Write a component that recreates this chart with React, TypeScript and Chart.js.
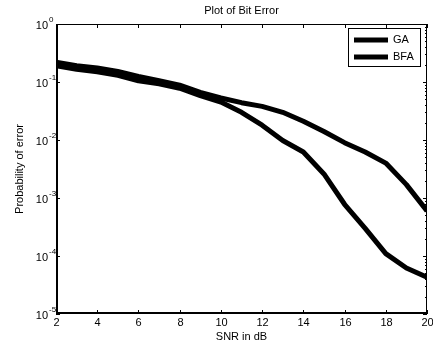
import React, { useEffect, useRef } from "react";
import { Chart, registerables } from "chart.js";
Chart.register(...registerables);

const snr = [2, 3, 4, 5, 6, 7, 8, 9, 10, 11, 12, 13, 14, 15, 16, 17, 18, 19, 20];
const gaValues = [0.22, 0.19, 0.175, 0.152, 0.125, 0.105, 0.088, 0.066, 0.053, 0.044, 0.038, 0.03, 0.021, 0.014, 0.009, 0.0062, 0.004, 0.0017, 0.0006];
const bfaValues = [0.19, 0.165, 0.15, 0.13, 0.105, 0.093, 0.078, 0.058, 0.045, 0.03, 0.018, 0.0098, 0.0062, 0.0026, 0.00078, 0.0003, 0.00011, 0.000062, 0.000043];
const xTicks = [2, 4, 6, 8, 10, 12, 14, 16, 18, 20];
const yExponents = [0, -1, -2, -3, -4, -5];
const seriesNames = ["GA", "BFA"];
const titleText = "Plot of Bit Error";
const xLabel = "SNR in dB";
const yLabel = "Probability of error";

const FONT = '"Liberation Sans", Arial, sans-serif';

const matlabPlugin = {
  id: "matlabAxes",
  afterDraw(chart: any) {
    const ctx = chart.ctx;
    const { left, right, top, bottom } = chart.chartArea;
    const xs = chart.scales.x;
    const ys = chart.scales.y;
    ctx.save();
    ctx.strokeStyle = "#000";
    ctx.fillStyle = "#000";
    ctx.lineWidth = 1;
    // frame: top/right thin, left/bottom thicker
    ctx.strokeRect(left + 0.5, top + 0.5, right - left - 1, bottom - top - 1);
    ctx.fillRect(left, bottom - 2, right - left, 2);
    ctx.fillRect(left, top, 2, bottom - top);
    // x ticks
    ctx.font = `11px ${FONT}`;
    ctx.textAlign = "center";
    ctx.textBaseline = "middle";
    xTicks.forEach((t) => {
      const px = Math.round(xs.getPixelForValue(t)) + 0.5;
      ctx.beginPath();
      ctx.moveTo(px, bottom);
      ctx.lineTo(px, bottom - 4);
      ctx.moveTo(px, top);
      ctx.lineTo(px, top + 4);
      ctx.stroke();
      ctx.fillText(String(t), px, bottom + 9);
    });
    // y ticks
    yExponents.forEach((e) => {
      const py = Math.round(ys.getPixelForValue(Math.pow(10, e))) + 0.5;
      ctx.beginPath();
      ctx.moveTo(left, py);
      ctx.lineTo(left + 4, py);
      ctx.moveTo(right, py);
      ctx.lineTo(right - 4, py);
      ctx.stroke();
      ctx.font = `11px ${FONT}`;
      ctx.textAlign = "right";
      ctx.textBaseline = "middle";
      ctx.fillText("10", left - 8, py + 1);
      ctx.font = `8px ${FONT}`;
      ctx.textAlign = "left";
      ctx.fillText(String(e), left - 7, py - 5);
      if (e > -5) {
        for (let m = 2; m <= 9; m++) {
          const v = Math.pow(10, e - 1) * m;
          const pm = Math.round(ys.getPixelForValue(v)) + 0.5;
          ctx.beginPath();
          ctx.moveTo(left, pm);
          ctx.lineTo(left + 2, pm);
          ctx.moveTo(right, pm);
          ctx.lineTo(right - 2, pm);
          ctx.stroke();
        }
      }
    });
    // titles
    const cx = (left + right) / 2;
    ctx.font = `11px ${FONT}`;
    ctx.textAlign = "center";
    ctx.textBaseline = "middle";
    ctx.fillText(titleText, cx, 11);
    ctx.fillText(xLabel, cx, bottom + 23);
    ctx.save();
    ctx.translate(20, (top + bottom) / 2);
    ctx.rotate(-Math.PI / 2);
    ctx.fillText(yLabel, 0, 0);
    ctx.restore();
    // legend
    const lx = 348, ly = 28, lw = 72, lh = 38;
    ctx.fillStyle = "#fff";
    ctx.fillRect(lx, ly, lw, lh);
    ctx.strokeStyle = "#000";
    ctx.lineWidth = 1;
    ctx.strokeRect(lx + 0.5, ly + 0.5, lw, lh);
    ctx.fillStyle = "#000";
    ctx.textAlign = "left";
    seriesNames.forEach((name, i) => {
      const yy = 40 + i * 17;
      ctx.lineWidth = 5;
      ctx.beginPath();
      ctx.moveTo(354, yy);
      ctx.lineTo(388, yy);
      ctx.stroke();
      ctx.fillText(name, 393, yy);
    });
    ctx.restore();
  },
};

export default function App() {
  const ref = useRef<HTMLCanvasElement | null>(null);
  useEffect(() => {
    document.body.style.margin = "0";
    const canvas = ref.current!;
    const chart = new Chart(canvas, {
      type: "line",
      data: {
        datasets: [
          {
            label: seriesNames[0],
            data: snr.map((x, i) => ({ x, y: gaValues[i] })),
            borderColor: "#000",
            borderWidth: 5,
            pointRadius: 0,
            fill: false,
            tension: 0,
            borderJoinStyle: "round",
          },
          {
            label: seriesNames[1],
            data: snr.map((x, i) => ({ x, y: bfaValues[i] })),
            borderColor: "#000",
            borderWidth: 5,
            pointRadius: 0,
            fill: false,
            tension: 0,
            borderJoinStyle: "round",
          },
        ],
      },
      options: {
        responsive: false,
        animation: false,
        devicePixelRatio: 1,
        layout: { padding: { left: 56, right: 6, top: 24, bottom: 33 } },
        plugins: { legend: { display: false }, tooltip: { enabled: false }, title: { display: false } },
        scales: {
          x: { type: "linear", min: 2, max: 20, display: false },
          y: { type: "logarithmic", min: 1e-5, max: 1, display: false },
        },
      },
      plugins: [matlabPlugin],
    } as any);
    return () => chart.destroy();
  }, []);
  return (
    <div style={{ position: "fixed", left: 0, top: 0, width: 433, height: 347, background: "#fff" }}>
      <canvas ref={ref} width={433} height={347} />
    </div>
  );
}
